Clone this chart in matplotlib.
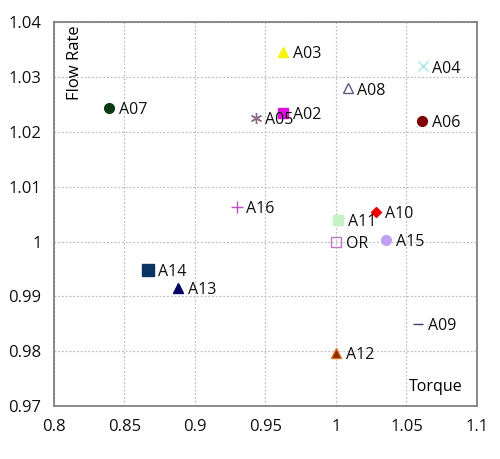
import matplotlib
matplotlib.use("Agg")
import matplotlib.pyplot as plt

plt.rcParams['font.family'] = ['Open Sans', 'DejaVu Sans']

names = ["A07", "A03", "A04", "A08", "A02", "A05", "A06", "A16",
         "A10", "A11", "OR", "A15", "A14", "A13", "A09", "A12"]
torque = [0.839, 0.9626, 1.0615, 1.0083, 0.9626, 0.943, 1.0612, 0.9296,
          1.0281, 1.0017, 1.0, 1.0355, 0.8667, 0.888, 1.0584, 1.0]
flow = [1.0243, 1.0346, 1.0319, 1.0279, 1.0234, 1.0226, 1.022, 1.0063,
        1.0054, 1.0039, 1.0, 1.0003, 0.9949, 0.9916, 0.985, 0.9797]

# marker, face, edge, size
styles = {
    "A07": ("o", "#0b3b12", "#0b3b12", 7),
    "A03": ("^", "#f5f500", "#f5f500", 7),
    "A04": ("x", "#a8e6ee", "#a8e6ee", 7),
    "A08": ("^", "none", "#5a5a85", 7),
    "A02": ("s", "#e010e0", "#e010e0", 7),
    "A05": ((6, 2, 0), "#8a6a8a", "#8a6a8a", 8),
    "A06": ("o", "#7f0000", "#7f0000", 7),
    "A16": ("+", "#c050c0", "#c050c0", 8),
    "A10": ("D", "#ee0000", "#ee0000", 5.5),
    "A11": ("s", "#c4f2c4", "#c4f2c4", 7),
    "OR": ("s", "none", "#c07ac0", 7),
    "A15": ("o", "#c0a0f0", "#c0a0f0", 7),
    "A14": ("s", "#0b3463", "#0b3463", 9),
    "A13": ("^", "#000066", "#000066", 7),
    "A09": ("_", "#404060", "#404060", 7),
    "A12": ("^", "#8b2a00", "#e07020", 7),
}

fig = plt.figure(figsize=(5, 4.59), dpi=100)
ax = fig.add_axes([0.108, 0.115, 0.846, 0.837])

for n, x, y in zip(names, torque, flow):
    m, fc, ec, s = styles[n]
    ax.plot(x, y, linestyle="none", marker=m, markersize=s,
            markerfacecolor=fc, markeredgecolor=ec, markeredgewidth=1.0)
    ax.annotate(n, (x, y), xytext=(7, -1.5), textcoords="offset points",
                ha="left", va="center", fontsize=11.5, color="#111111")

ax.set_xlim(0.8, 1.1)
ax.set_ylim(0.97, 1.04)
ax.set_xticks([0.8, 0.85, 0.9, 0.95, 1.0, 1.05, 1.1])
ax.set_xticklabels(["0.8", "0.85", "0.9", "0.95", "1", "1.05", "1.1"])
ax.set_yticks([0.97, 0.98, 0.99, 1.0, 1.01, 1.02, 1.03, 1.04])
ax.set_yticklabels(["0.97", "0.98", "0.99", "1", "1.01", "1.02", "1.03", "1.04"])
ax.tick_params(length=0, labelsize=12, pad=9, colors="#111111")
ax.grid(True, linestyle=(0, (1.5, 1.5)), color="#c0c0c0", linewidth=0.9)
for sp in ax.spines.values():
    sp.set_color("#808080")
    sp.set_linewidth(1.3)

ax.text(0.05, 0.99, "Flow Rate", transform=ax.transAxes, rotation=90,
        ha="center", va="top", fontsize=12)
ax.text(0.965, 0.05, "Torque", transform=ax.transAxes,
        ha="right", va="center", fontsize=11.5)

fig.savefig("out.png", dpi=100)
